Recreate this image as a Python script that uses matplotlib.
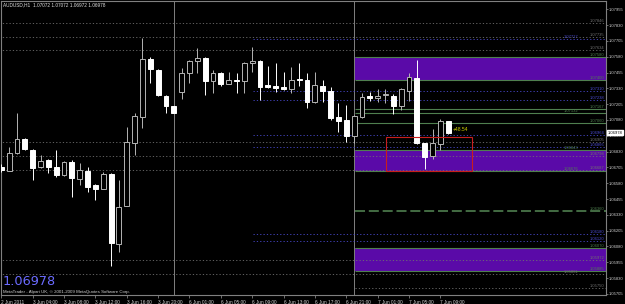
import matplotlib
matplotlib.use("Agg")
import matplotlib.pyplot as plt
from matplotlib.patches import Rectangle

# --- dados (AUDUSD H1) ---
opens = [1.06710, 1.06679, 1.06816, 1.06927, 1.06843, 1.06706, 1.06763, 1.06710, 1.06645, 1.06750,
         1.06611, 1.06676, 1.06566, 1.06536, 1.06650, 1.06099, 1.06402, 1.06895, 1.07106, 1.07560,
         1.07475, 1.07272, 1.07188, 1.07299, 1.07449, 1.07547, 1.07568, 1.07391, 1.07449, 1.07362,
         1.07400, 1.07391, 1.07528, 1.07547, 1.07354, 1.07351, 1.07338, 1.07323, 1.07404, 1.07397,
         1.07225, 1.07349, 1.07309, 1.07101, 1.07080, 1.06955, 1.07101, 1.07270, 1.07256, 1.07275,
         1.07272, 1.07193, 1.07312, 1.07414, 1.06895, 1.06797, 1.06888, 1.07072]
highs = [1.06732, 1.06869, 1.07133, 1.06937, 1.06851, 1.06803, 1.06771, 1.06843, 1.06756, 1.06763,
         1.06737, 1.06710, 1.06574, 1.06671, 1.06661, 1.06605, 1.07022, 1.07133, 1.07728, 1.07580,
         1.07483, 1.07278, 1.07191, 1.07489, 1.07554, 1.07647, 1.07578, 1.07475, 1.07457, 1.07457,
         1.07449, 1.07539, 1.07660, 1.07554, 1.07507, 1.07528, 1.07462, 1.07501, 1.07528, 1.07449,
         1.07457, 1.07397, 1.07343, 1.07212, 1.07198, 1.07119, 1.07291, 1.07304, 1.07323, 1.07323,
         1.07285, 1.07333, 1.07449, 1.07554, 1.06898, 1.07006, 1.07085, 1.07072]
lows = [1.06668, 1.06676, 1.06811, 1.06843, 1.06605, 1.06700, 1.06658, 1.06631, 1.06637, 1.06468,
        1.06566, 1.06513, 1.06447, 1.06534, 1.05925, 1.06036, 1.06399, 1.06803, 1.07014, 1.07375,
        1.07270, 1.07133, 1.07135, 1.07244, 1.07370, 1.07449, 1.07278, 1.07291, 1.07349, 1.07361,
        1.07296, 1.07296, 1.07457, 1.07238, 1.07333, 1.07304, 1.07317, 1.07296, 1.07351, 1.07172,
        1.07212, 1.07225, 1.07080, 1.06987, 1.06908, 1.06895, 1.07096, 1.07230, 1.07225, 1.07212,
        1.07127, 1.07159, 1.07233, 1.06890, 1.06690, 1.06771, 1.06843, 1.06972]
closes = [1.06684, 1.06816, 1.06927, 1.06853, 1.06698, 1.06756, 1.06710, 1.06645, 1.06745, 1.06619,
          1.06684, 1.06552, 1.06536, 1.06653, 1.06104, 1.06394, 1.06906, 1.07111, 1.07560, 1.07481,
          1.07278, 1.07193, 1.07138, 1.07449, 1.07549, 1.07568, 1.07391, 1.07449, 1.07365, 1.07397,
          1.07392, 1.07528, 1.07547, 1.07343, 1.07343, 1.07335, 1.07325, 1.07397, 1.07394, 1.07225,
          1.07357, 1.07312, 1.07098, 1.07072, 1.06955, 1.07109, 1.07259, 1.07256, 1.07272, 1.07285,
          1.07193, 1.07323, 1.07418, 1.06895, 1.06790, 1.06895, 1.07072, 1.06978]

date_labels = ["2 Jun 2011", "3 Jun 04:00", "3 Jun 08:00", "3 Jun 12:00", "3 Jun 16:00",
               "3 Jun 20:00", "6 Jun 01:00", "6 Jun 05:00", "6 Jun 09:00", "6 Jun 13:00",
               "6 Jun 17:00", "6 Jun 21:00", "7 Jun 01:00", "7 Jun 05:00", "7 Jun 09:00"]
price_ticks = [1.05705 + 0.00125 * k for k in range(19)]

# níveis desenhados no gráfico
niveis_cinza = [1.07846, 1.07735, 1.07634, 1.06905, 1.06798, 1.06687, 1.05972, 1.05861]
niveis_cinza_dir = [1.05750]
niveis_azuis = [1.07717, 1.07310, 1.07238, 1.06964, 1.06866, 1.06180, 1.06120]
niveis_verdes = [1.07167, 1.07132, 1.07060]
nivel_tracejado = 1.06360
zonas = [(1.07400, 1.07580), (1.06676, 1.06843), (1.05885, 1.06070)]
caixa_vermelha = (1.06679, 1.06943)
separadores = [22, 45]

preco_atual = 1.06978
lucro_txt = "+48.54"

BG = "#000000"
CINZA = "#707070"
AZUL = "#4a4ad0"
VERDE = "#4f7f4f"
ROXO = "#5a0aa8"

fig = plt.figure(figsize=(6.25, 3.04), dpi=100, facecolor=BG)
ax = fig.add_axes([1 / 625, 9 / 304, 605 / 625, 294 / 304], facecolor=BG)
x_max = 77.13
ax.set_xlim(-0.04, x_max)
ax.set_ylim(1.05696, 1.08021)

dot = (0, (1.5, 2.5))
inicio_dir = 45.1
inicio_azul = 32.1

# zonas roxas
for lo, hi in zonas:
    ax.add_patch(Rectangle((inicio_dir, lo), x_max - inicio_dir, hi - lo,
                           facecolor=ROXO, edgecolor="none", zorder=1))
    ax.hlines([lo, hi], inicio_dir, x_max, colors=VERDE, lw=0.8, zorder=2)

ax.hlines(niveis_cinza, -1, x_max, colors=CINZA, lw=0.6, linestyles=[dot], zorder=2)
ax.hlines(niveis_cinza_dir, inicio_dir, x_max, colors=CINZA, lw=0.6, linestyles=[dot], zorder=2)
ax.hlines(niveis_azuis, inicio_azul, x_max, colors=AZUL, lw=0.6, linestyles=[dot], zorder=2)
ax.hlines(niveis_verdes, inicio_dir, x_max, colors=VERDE, lw=0.8, zorder=2)
ax.hlines([nivel_tracejado], inicio_dir, x_max, colors=VERDE, lw=1.2,
          linestyles=[(0, (6, 2.3))], zorder=2)

for s in separadores:
    ax.axvline(s, color="#808080", lw=0.7, zorder=1.5)

# rótulos de preço dos objetos (lado direito); os muito próximos vão um pouco à esquerda
rotulos = ([(v, CINZA) for v in niveis_cinza + niveis_cinza_dir] +
           [(v, AZUL) for v in niveis_azuis] +
           [(v, VERDE) for v in niveis_verdes + [nivel_tracejado]] +
           [(v, VERDE) for z in zonas for v in z])
rotulos.sort(key=lambda r: -r[0])
ultimo = None
desloc = 0
for v, cor in rotulos:
    if ultimo is not None and ultimo - v < 0.00036 and desloc == 0:
        desloc = 3.3
    else:
        desloc = 0
    ultimo = v
    ax.text(x_max - 0.2 - desloc, v, f"{v:.5f}", color=cor, fontsize=3.0, ha="right",
            va="bottom", family="Liberation Sans", zorder=3)

# velas
idx = list(range(len(opens)))
for i in idx:
    o, h, l, c = opens[i], highs[i], lows[i], closes[i]
    alta = c >= o
    cor = "#b4b4b4" if alta else "#ffffff"
    ax.vlines(i, l, h, colors=cor, lw=0.7, zorder=4)
    base = min(o, c)
    altura = max(abs(c - o), 0.00003)
    ax.bar(i, altura, bottom=base, width=0.62, color=BG if alta else "#ffffff",
           edgecolor=cor, linewidth=0.7, zorder=5)

# retângulo vermelho
ax.add_patch(Rectangle((49.07, caixa_vermelha[0]), 11.03, caixa_vermelha[1] - caixa_vermelha[0],
                       facecolor="none", edgecolor="#c81e1e", lw=0.8, zorder=6))
ax.text(57.6, 1.07001, lucro_txt, color="#d4d400", fontsize=3.6, va="center",
        family="Liberation Sans", zorder=6)

# eixos
for sp in ax.spines.values():
    sp.set_color("#808080")
    sp.set_linewidth(0.8)
ax.yaxis.tick_right()
ax.set_yticks(price_ticks)
ax.set_yticklabels([f"{p:.5f}" for p in price_ticks])
ax.set_xticks(list(range(0, 57, 4)))
ax.set_xticklabels(date_labels)
ax.tick_params(axis="both", colors="#808080", labelcolor="#d0d0d0", labelsize=3.4,
               length=2.5, width=0.6, pad=0.8)
ax.tick_params(axis="y", labelsize=3.0, length=1.5, pad=0.5)
for t in ax.get_xticklabels():
    t.set_ha("left")
    t.set_family("Liberation Sans")
for t in ax.get_yticklabels():
    t.set_family("Liberation Sans")

ax.annotate(f"{preco_atual:.5f}", xy=(1, preco_atual), xycoords=("axes fraction", "data"),
            xytext=(1.0, 0), textcoords="offset points", fontsize=3.0, va="center",
            color="black", family="Liberation Sans",
            bbox=dict(boxstyle="square,pad=0.1", fc="white", ec="white"))

ax.text(0.004, 0.986, "AUDUSD,H1  1.07072 1.07072 1.06972 1.06978", transform=ax.transAxes,
        color="#e0e0e0", fontsize=3.4, va="center", family="Liberation Sans", zorder=7)
ax.text(0.003, 0.034, f"{preco_atual:.5f}", transform=ax.transAxes, color="#6b6bff",
        fontsize=9.3, va="baseline", family="DejaVu Sans", zorder=7)
ax.text(0.004, 0.006, "MetaTrader - Alpari UK, © 2001-2009 MetaQuotes Software Corp.",
        transform=ax.transAxes, color="#d0d0d0", fontsize=3.2, va="baseline",
        family="Liberation Sans", zorder=7)

fig.savefig("out.png", dpi=100, facecolor=BG)
